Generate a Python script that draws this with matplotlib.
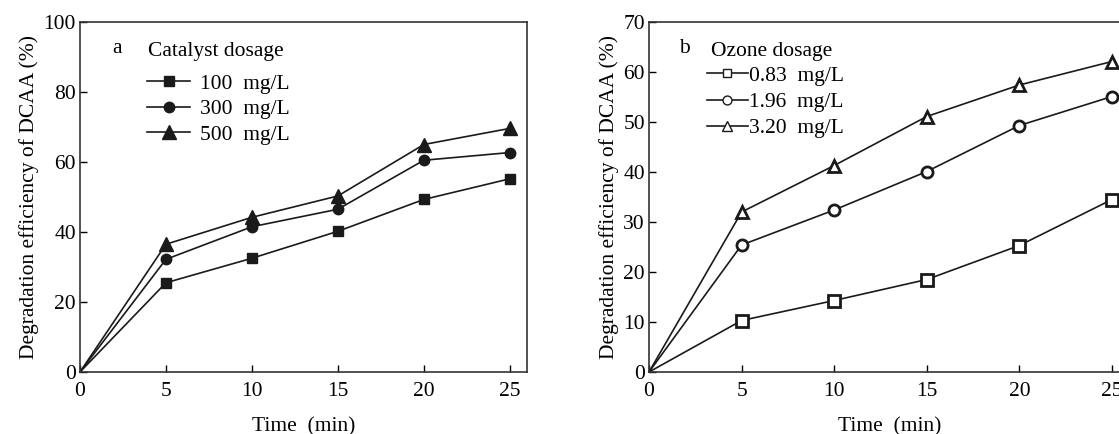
import matplotlib
matplotlib.use("Agg")
import matplotlib.pyplot as plt

plt.rcParams['font.family'] = ['Liberation Serif', 'DejaVu Serif']

time = [0, 5, 10, 15, 20, 25]

cat_labels = ["100  mg/L", "300  mg/L", "500  mg/L"]
cat_100 = [0, 25.5, 32.5, 40.2, 49.3, 55.2]
cat_300 = [0, 32.2, 41.5, 46.5, 60.5, 62.7]
cat_500 = [0, 36.5, 44.2, 50.3, 65.0, 69.6]

oz_labels = ["0.83  mg/L", "1.96  mg/L", "3.20  mg/L"]
oz_083 = [0, 10.3, 14.3, 18.5, 25.3, 34.5]
oz_196 = [0, 25.4, 32.4, 40.1, 49.3, 55.1]
oz_320 = [0, 32.0, 41.3, 51.1, 57.4, 62.1]

xticks = [0, 5, 10, 15, 20, 25]
yticks_a = [0, 20, 40, 60, 80, 100]
yticks_b = [0, 10, 20, 30, 40, 50, 60, 70]

W, H = 1119, 434
fig = plt.figure(figsize=(W / 100, H / 100), dpi=100)

def px_axes(l, r, t, b):
    return fig.add_axes([l / W, (H - b) / H, (r - l) / W, (b - t) / H])

axa = px_axes(80, 527, 22, 372)
axb = px_axes(649, 1130.5, 22, 372)

fs = 15.5
lw = 1.2
col = '#1a1a1a'

def style(ax, yticks, ylim):
    ax.set_xlim(0, 26)
    ax.set_ylim(*ylim)
    ax.set_xticks(xticks)
    ax.set_yticks(yticks)
    ax.tick_params(direction='in', length=5, width=1, labelsize=fs)
    ax.tick_params(axis='x', pad=7)
    ax.tick_params(axis='y', pad=3)
    for s in ax.spines.values():
        s.set_linewidth(1.2)
        s.set_color('#333333')
    ax.set_xlabel("Time  (min)", fontsize=fs, labelpad=12)
    ax.set_ylabel("Degradation efficiency of DCAA (%)", fontsize=fs, labelpad=3)

# Panel a
for y, m, lab in zip([cat_100, cat_300, cat_500], ['s', 'o', '^'], cat_labels):
    axa.plot(time, y, color=col, lw=lw, marker=m, markersize=7.5 if m != '^' else 9.5,
             markevery=slice(1, None),
             markerfacecolor=col, markeredgecolor=col, label=lab, clip_on=False)
style(axa, yticks_a, (0, 100))
axa.text((112 - 80) / 447, 0.925, "a", transform=axa.transAxes, fontsize=fs, va='center', ha='left')
axa.text((148 - 80) / 447, 0.915, "Catalyst dosage", transform=axa.transAxes, fontsize=fs, va='center', ha='left')
axa.legend(loc='upper left', bbox_to_anchor=((147 - 80) / 447, 0.852), frameon=False, fontsize=fs,
           handlelength=2.0, handletextpad=0.45, labelspacing=0.25, borderaxespad=0,
           borderpad=0)

# Panel b
for y, m, lab in zip([oz_083, oz_196, oz_320], ['s', 'o', '^'], oz_labels):
    axb.plot(time, y, color=col, lw=lw, marker=m, markersize=8 if m != '^' else 9,
             markevery=slice(1, None),
             markerfacecolor='white', markeredgecolor=col, markeredgewidth=2,
             label=lab, clip_on=False)
style(axb, yticks_b, (0, 70))
axb.text((679 - 649) / 481.5, 0.925, "b", transform=axb.transAxes, fontsize=fs, va='center', ha='left')
axb.text((711 - 649) / 481.5, 0.915, "Ozone dosage", transform=axb.transAxes, fontsize=fs, va='center', ha='left')
legb = axb.legend(loc='upper left', bbox_to_anchor=((707 - 649) / 481.5, 0.875), frameon=False, fontsize=fs,
                  handlelength=1.9, handletextpad=0.05, labelspacing=0.29, borderaxespad=0,
                  borderpad=0, markerscale=0.8)
for h in legb.legend_handles:
    h.set_markeredgewidth(1.0)

fig.savefig("out.png", dpi=100)
